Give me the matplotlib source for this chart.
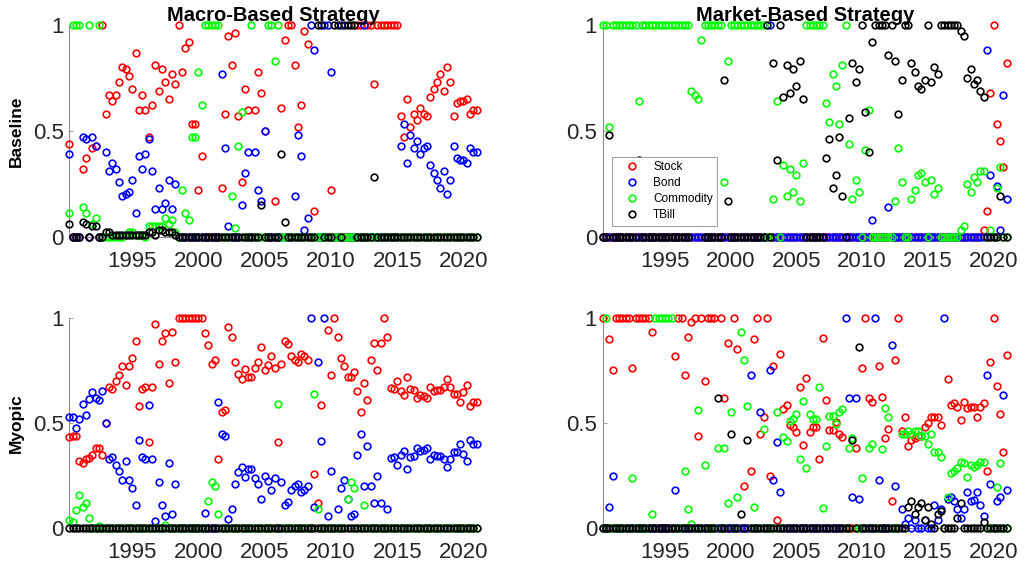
import numpy as np
import matplotlib
matplotlib.use("Agg")
import matplotlib.pyplot as plt

plt.rcParams['font.family'] = ['Liberation Sans', 'DejaVu Sans']

# quarterly dates, 1990Q2 .. 2021Q1
dates = np.arange(1990.25, 2021.01, 0.25)

assets = ["Stock", "Bond", "Commodity", "TBill"]
colors = ["#ff0000", "#0000ff", "#00ff00", "#000000"]

# ---- Macro-based, baseline ----
tl_stock = [.44, 0, 0, 0, .32, .37, 0, .42, .43, 0,
            1, .58, .67, .64, .67, .73, .80, .79, .76, .70,
            .87, .60, .67, .60, .47, .62, .81, .69, .79, .73,
            .65, .77, .72, 1, .78, .89, .92, .53, .53, .22,
            .38, 0, 0, 0, 0, 0, .23, .58, .95, .81,
            .96, .57, .26, .70, .60, 0, .60, .78, .68, .50,
            0, 0, .17, 0, .61, .93, 1, 1, .81, .52,
            .62, .97, .91, 0, .12, 0, 0, 0, 0, .22,
            0, 0, 0, 0, 0, 0, 0, 1, 1, 0,
            1, 1, .72, 1, 1, 1, 1, 1, 1, 1,
            .57, .47, .65, .52, .58, .55, .61, .58, .57, .66,
            .70, .73, .77, .69, .80, .73, .57, .63, .64, .64,
            .65, .58, .60, .60]
tl_bond = [.39, 0, 0, 0, .47, .46, 0, .47, .43, 0,
           0, .40, .31, .35, .32, .26, .19, .20, .21, .27,
           .11, .38, .32, .39, .46, .31, .13, .23, .13, .16,
           .27, .13, .25, 0, 0, 0, 0, 0, 0, 0,
           0, 0, 0, 0, 0, 0, .77, .42, .05, 0,
           0, 0, .15, .30, .40, 0, .40, .22, .17, .50,
           0, 0, 0, 0, 0, 0, 0, 0, .19, .48,
           .38, .03, .09, 1, .88, 0, 0, 1, 1, .78,
           0, 0, 1, 0, 0, 0, 0, 0, 0, 1,
           0, 0, 0, 0, 0, 0, 0, 0, 0, 0,
           .43, .53, .35, .48, .42, .45, .39, .42, .43, .34,
           .30, .27, .23, .31, .20, .27, .43, .37, .36, .36,
           .35, .42, .40, .40]
tl_commodity = [.11, 1, 1, 1, .14, .11, 1, .06, .09, 1,
                0, 0, 0, 0, 0, 0, 0, .01, .02, .02,
                .01, .01, .01, 0, .05, .05, .05, .05, .05, .09,
                .06, .08, .02, 0, .22, .11, .08, .47, .47, .78,
                .62, 1, 1, 1, 1, 1, 0, 0, 0, .19,
                .04, .43, .59, 0, 0, 1, 0, 0, 0, 0,
                1, 1, .83, 1, 0, 0, 0, 0, 0, 0,
                0, 0, 0, 0, 0, 0, 0, 0, 0, 0,
                0, 0, 0, 0, 0, 0, 0, 0, 0, 0,
                0, 0, 0, 0, 0, 0, 0, 0, 0, 0,
                0, 0, 0, 0, 0, 0, 0, 0, 0, 0,
                0, 0, 0, 0, 0, 0, 0, 0, 0, 0,
                0, 0, 0, 0]
tl_tbill = [.06, 0, 0, 0, .07, .06, 0, .05, .05, 0,
            0, .02, .02, .01, .01, .01, .01, .01, .01, .01,
            .01, .01, .01, .01, .02, .02, .01, .03, .03, .02,
            .02, .02, .01, 0, 0, 0, 0, 0, 0, 0,
            0, 0, 0, 0, 0, 0, 0, 0, 0, 0,
            0, 0, 0, 0, 0, 0, 0, 0, .15, 0,
            0, 0, 0, 0, .39, .07, 0, 0, 0, 0,
            0, 0, 0, 0, 0, 1, 1, 0, 0, 0,
            1, 1, 0, 1, 1, 1, 1, 0, 0, 0,
            0, 0, .28, 0, 0, 0, 0, 0, 0, 0,
            0, 0, 0, 0, 0, 0, 0, 0, 0, 0,
            0, 0, 0, 0, 0, 0, 0, 0, 0, 0,
            0, 0, 0, 0]

# ---- Market-based, baseline ----
tr_stock = [0] * 110 + [0, 0, 0, 0, 0, 0, .03, .12, .68, 1,
                        .53, .45, .33, .82]
tr_bond = ([0] * 50 + [0, 1] + [0] * 30 +
           [.08, 0, 0, 0, 0, .14, 0, 0] + [0] * 27 +
           [.88, .29, 0, .24, .03, .67, .18])
tr_commodity = [1, 1, .52, 1, 1, 1, 1, 1, 1, 1,
                1, .64, 1, 1, 1, 1, 1, 1, 1, 1,
                1, 1, 1, 1, 1, 1, 1, .69, .67, .65,
                .93, 1, 1, 1, 1, 1, 1, .26, .83, 1,
                1, 1, 1, 1, 1, 1, 1, 1, 1, 1,
                0, 0, .18, .64, 0, .34, .19, .32, .21, .29,
                .17, .35, 1, 1, 1, 1, 1, 1, .63, .54,
                .77, .71, .53, .81, 1, .44, .18, .27, .21, 0,
                .41, .60, 0, 0, 0, 0, 0, 0, 0, .17,
                .42, .26, 0, 0, .18, .22, .29, .30, .26, 0,
                .27, .20, .23, 0, 0, 0, 0, 0, 0, .03,
                .05, .25, .21, .28, .26, .31, .31, 0, .03, 0,
                .23, .33, 0, 0]
tr_tbill = [0, 0, .48, 0, 0, 0, 0, 0, 0, 0,
            0, .36, 0, 0, 0, 0, 0, 0, 0, 0,
            0, 0, 0, 0, 0, 0, 0, .31, .33, .35,
            .07, 0, 0, 0, 0, 0, 0, .74, .17, 0,
            0, 0, 0, 0, 0, 0, 0, 0, 0, 0,
            1, 0, .82, .36, 1, .66, .81, .68, .79, .71,
            .83, .65, 0, 0, 0, 0, 0, 0, .37, .46,
            .23, .29, .47, .19, 0, .56, .82, .73, .79, 1,
            .59, .40, .92, 1, 1, 1, 1, .86, 1, .83,
            .58, .74, 1, 1, .82, .78, .71, .70, .74, 1,
            .73, .80, .77, 1, 1, 1, 1, 1, 1, .97,
            .95, .75, .79, .72, .74, .69, .66, 0, 0, 0,
            0, .19, 0, 0]

# ---- Macro-based, myopic ----
bl_stock = [.435, .44, .44, .32, .31, .33, .335, .35, .38, .38,
            .35, .50, .67, .66, .70, .73, .77, .68, .77, .81,
            .89, .58, .66, .67, .41, .67, .97, .78, .89, .925,
            .69, .93, .79, 1, 1, 1, 1, 1, 1, 1,
            1, .925, .87, .78, .80, .33, .55, .56, .955, .91,
            .79, .735, .71, .755, .72, .72, .76, .79, .86, .75,
            .775, .82, .76, .41, .78, .89, .875, .82, .80, .79,
            .83, .82, .80, 0, .26, .12, .585, 0, .94, .73,
            1, .91, .81, .77, .72, .72, .74, .65, .55, .69,
            .61, .80, .88, .75, .88, 1, .91, .665, .66, .70,
            .65, .635, .72, .66, .655, .62, .635, .63, .62, .67,
            .65, .655, .655, .67, .71, .67, .64, .64, .60, .645,
            .68, .58, .60, .60]
bl_bond = [.527, .53, .475, .52, .59, .54, .615, .645, .62, .61,
           .65, .50, .33, .34, .30, .27, .23, .32, .23, .19,
           .11, .42, .34, .33, .585, .33, .035, .22, .11, .06,
           .31, .07, .21, 0, 0, 0, 0, 0, 0, 0,
           0, .075, 0, 0, 0, .60, .45, .44, .045, .09,
           .21, .265, .29, .245, .28, .28, .24, .21, .14, .25,
           .225, .18, .24, 0, .22, .11, .125, .18, .20, .21,
           .17, .18, .20, 1, .10, .79, .415, 1, .06, .27,
           0, .09, .19, .23, .14, .06, .07, .35, .45, .20,
           .39, .20, .12, .25, .12, 0, .09, .335, .34, .30,
           .35, .365, .28, .34, .345, .38, .365, .37, .38, .33,
           .35, .345, .345, .33, .29, .33, .36, .36, .40, .355,
           .32, .42, .40, .40]
bl_commodity = ([.04, .03, .085, .16, .10, .12, .05, 0, 0, .01] + [0] * 19 +
                [.015] + [0] * 12 + [.13, .22, .20, .07] + [0] * 17 +
                [.59] + [0] * 10 + [.64, .09] + [0] * 8 +
                [.14, .22, .19, 0, 0, .11] + [0] * 34)
bl_tbill = [0] * 124

# ---- Market-based, myopic ----
br_stock = [1, 0, .90, .75, 1, 1, 1, 1, 1, .76,
            1, 1, 1, 1, 1, .93, 0, 0, 0, 0,
            0, 0, .82, 1, 1, .73, .91, .98, 1, .44,
            1, .70, 1, 1, 1, 0, 1, .62, .88, 0,
            1, .85, 0, .20, 0, .27, .90, 1, .45, .53,
            1, .25, .77, .04, .83, .565, .585, .49, .48, .455,
            .67, .395, .715, .455, .48, .48, .33, .905, .61, .465,
            .465, .505, .45, .435, 0, 0, 0, .38, 0, .76,
            1, .62, .60, 0, .77, .625, .43, .47, .13, .80,
            1, .46, .53, .39, .42, .43, .44, .44, .48, .50,
            .53, .53, .53, .49, 0, .707, .585, .593, .578, .514,
            .60, .57, .574, .574, .53, .578, .593, .27, .79, 1,
            .675, .543, .364, .823]
br_bond = [0, 0, .10, .25, 0, 0, 0, 0, 0, 0,
           0, 0, 0, 0, 0, 0, 0, 0, 0, 0,
           0, 0, .18, 0, 0, 0, 0, 0, 0, 0,
           0, 0, 0, 0, 0, 0, 0, 0, 0, 0,
           0, 0, 0, 0, 0, .73, 0, 0, .55, 0,
           0, .75, .23, .41, .17, 0, 0, 0, 0, 0,
           0, 0, 0, 0, 0, 0, 0, 0, 0, 0,
           0, 0, 0, 0, 1, .62, .15, .62, .14, 0,
           0, 0, 0, 1, .23, 0, 0, 0, .87, .20,
           0, .09, .02, .05, 0, .04, 0, 0, .04, 0,
           0, .11, .04, .09, 1, .14, .15, .13, .09, .05,
           .09, .17, .13, .134, .17, .11, .06, .73, .21, 0,
           .13, .147, .633, .18]
br_commodity = [0, 1, 0, 0, 0, 0, 0, 0, 0, .24,
                0, 0, 0, 0, 0, .07, 1, 1, 1, 1,
                1, 1, 0, 0, 0, .27, .09, .02, 0, .56,
                0, .30, 0, 0, 0, .38, 0, .38, .12, .55,
                0, .15, .93, .80, .58, 0, .10, 0, 0, .47,
                0, 0, 0, .55, 0, .435, .415, .51, .52, .545,
                .33, .605, .285, .545, .52, .52, .67, .095, .39, .535,
                .535, .495, .55, .565, 0, .38, .43, 0, 0, .24,
                0, .38, .40, 0, 0, .375, .57, .53, 0, 0,
                0, .45, .45, .46, .45, .46, .46, .44, .44, .40,
                .45, .36, .36, .34, 0, .15, .264, .274, .285, .316,
                .31, .245, .30, .293, .30, .316, .316, 0, 0, 0,
                .195, .31, 0, 0]
br_tbill = ([0] * 35 + [.62, 0, 0, 0, .45, 0, 0, .07, 0, .42] + [0] * 31 +
            [.42, 0, .86] + [0] * 14 +
            [.10, .13, .07, .10, .12, .04, .10, .02, 0, .07, .08,
             0, 0, 0, 0, .05, .12, 0, 0, 0, 0, 0, 0, .03] + [0] * 7)

panels = [
    ("Macro-Based Strategy", "Baseline", [tl_stock, tl_bond, tl_commodity, tl_tbill]),
    ("Market-Based Strategy", None, [tr_stock, tr_bond, tr_commodity, tr_tbill]),
    (None, "Myopic", [bl_stock, bl_bond, bl_commodity, bl_tbill]),
    (None, None, [br_stock, br_bond, br_commodity, br_tbill]),
]

W, H = 1027, 568
boxes = [(69.3, 25.0, 476.7, 236.7), (602.7, 25.0, 1006.7, 236.7),
         (69.3, 317.7, 476.7, 528.3), (602.7, 317.7, 1006.7, 528.3)]

fig = plt.figure(figsize=(W / 100, H / 100), dpi=100)
tick_col = "#262626"
axs = []
for (title, ylab, series), (x0, y0, x1, y1) in zip(panels, boxes):
    ax = fig.add_axes([x0 / W, 1 - y1 / H, (x1 - x0) / W, (y1 - y0) / H])
    for vals, c, name in zip(series, colors, assets):
        ax.plot(dates, vals, 'o', mfc='none', mec=c, ms=4.8, mew=1.2,
                clip_on=False, label=name, zorder=3)
    ax.set_xlim(dates[0], dates[-1])
    ax.set_ylim(0, 1)
    ax.set_xticks([1995, 2000, 2005, 2010, 2015, 2020])
    ax.set_yticks([0, 0.5, 1])
    ax.set_yticklabels(["0", "0.5", "1"])
    for s in ("top", "right"):
        ax.spines[s].set_visible(False)
    for s in ("left", "bottom"):
        ax.spines[s].set_color("#8c8c8c")
        ax.spines[s].set_linewidth(0.8)
    ax.tick_params(direction='in', length=3, width=0.6, color="#8c8c8c",
                   labelsize=16, labelcolor=tick_col)
    ax.tick_params(axis='x', pad=10)
    ax.tick_params(axis='y', pad=4)
    if title:
        ax.set_title(title, fontsize=14.5, fontweight='bold', pad=3)
    if ylab:
        fig.text(16.5 / W, 1 - (y0 + y1) / 2 / H, ylab, rotation=90,
                 ha='center', va='center', fontsize=12.5, fontweight='bold')
    axs.append(ax)

leg = axs[1].legend(loc='lower left', bbox_to_anchor=(611.7 / W, 1 - 225.7 / H),
                    bbox_transform=fig.transFigure, borderaxespad=0,
                    fontsize=8.5, handlelength=2.6, handletextpad=0.5,
                    labelspacing=0.33, borderpad=0.4, fancybox=False,
                    framealpha=1, edgecolor="#8c8c8c")
leg.get_frame().set_linewidth(0.6)
leg.set_zorder(10)

fig.savefig("out.png", dpi=100)
